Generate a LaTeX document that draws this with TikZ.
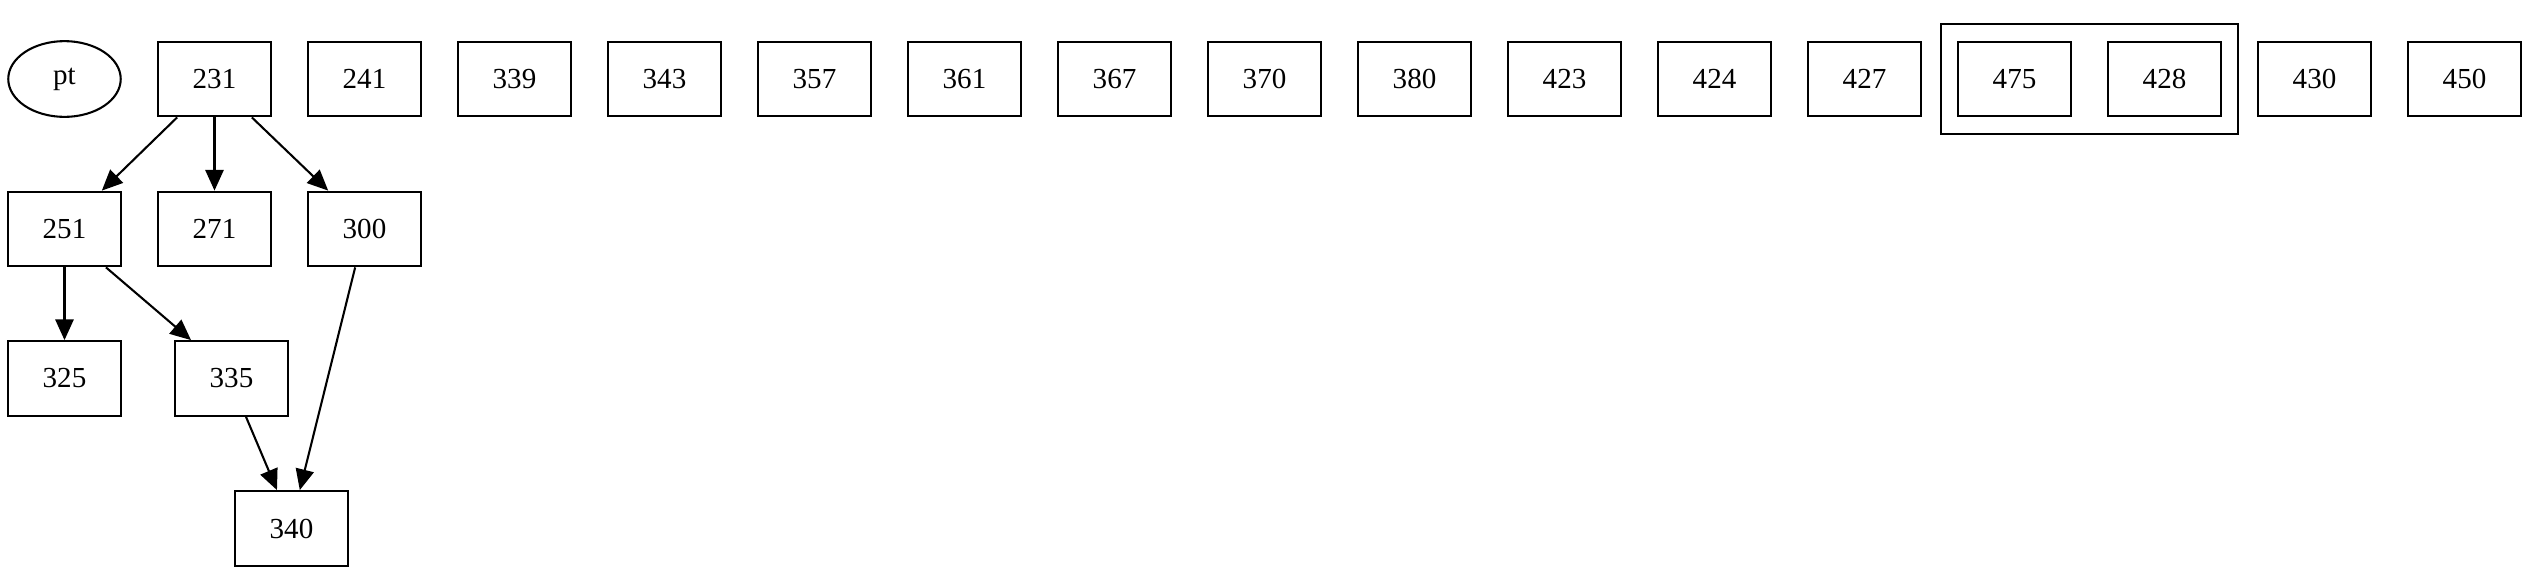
\documentclass[tikz,border=0pt]{standalone}
\usepackage{fontspec}
\setmainfont{Liberation Serif}
\usetikzlibrary{arrows.meta,shapes.geometric,fit}
\begin{document}
\begin{tikzpicture}[x=0.016933cm, y=-0.016933cm,
  every node/.style={font=\fontsize{14pt}{16pt}\selectfont},
  box/.style={draw, line width=1pt, rectangle, minimum width=54.2pt, minimum height=36pt, inner sep=0pt},
  oval/.style={draw, line width=1pt, ellipse, minimum width=54.2pt, minimum height=36.5pt, inner sep=0pt},
  cluster/.style={draw, line width=1pt, rectangle, inner xsep=7.7pt, inner ysep=8.2pt},
  edge/.style={draw, line width=1pt, -{Triangle[length=10pt,width=8.8pt]}}]
\useasboundingbox (0,0) rectangle (2529,575);
\node[oval] (pt) at (64.5,79) {pt};
\node[box] (n231) at (214.5,79) {231};
\node[box] (n241) at (364.5,79) {241};
\node[box] (n339) at (514.5,79) {339};
\node[box] (n343) at (664.5,79) {343};
\node[box] (n357) at (814.5,79) {357};
\node[box] (n361) at (964.5,79) {361};
\node[box] (n367) at (1114.5,79) {367};
\node[box] (n370) at (1264.5,79) {370};
\node[box] (n380) at (1414.5,79) {380};
\node[box] (n423) at (1564.5,79) {423};
\node[box] (n424) at (1714.5,79) {424};
\node[box] (n427) at (1864.5,79) {427};
\node[box] (n475) at (2014.5,79) {475};
\node[box] (n428) at (2164.5,79) {428};
\node[box] (n430) at (2314.5,79) {430};
\node[box] (n450) at (2464.5,79) {450};
\node[cluster, fit=(n475)(n428)] (cl) {};
\node[box] (n251) at (64.5,229) {251};
\node[box] (n271) at (214.5,229) {271};
\node[box] (n300) at (364.5,229) {300};
\node[box] (n325) at (64.5,378.5) {325};
\node[box] (n335) at (231.5,378.5) {335};
\node[box] (n340) at (291.5,528.5) {340};
\draw[edge] ([xshift=-18pt]n231.south) -- ([xshift=18pt]n251.north);
\draw[edge] (n231.south) -- (n271.north);
\draw[edge] ([xshift=18pt]n231.south) -- ([xshift=-17.5pt]n300.north);
\draw[edge] (n251.south) -- (n325.north);
\draw[edge] ([xshift=20pt]n251.south) -- ([xshift=-19.5pt]n335.north);
\draw[edge] ([xshift=7pt]n335.south) -- ([xshift=-7pt]n340.north);
\draw[edge] ([xshift=-4.5pt]n300.south) -- ([xshift=4pt]n340.north);
\end{tikzpicture}
\end{document}
